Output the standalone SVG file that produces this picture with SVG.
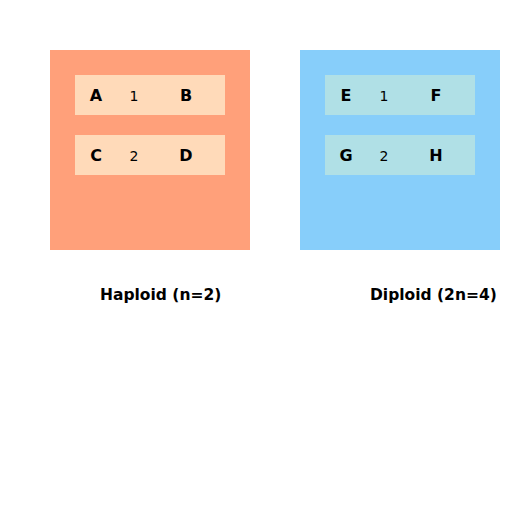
<svg xmlns="http://www.w3.org/2000/svg" width="512" height="512" viewBox="0 0 512 512">
<style>
.lbl{font-family:"DejaVu Sans",sans-serif;font-weight:bold;font-size:16px;fill:#000;text-anchor:middle}
.num{font-family:"DejaVu Sans",sans-serif;font-size:14px;fill:#000;text-anchor:middle}
.cap{font-family:"DejaVu Sans",sans-serif;font-weight:bold;font-size:15.5px;fill:#000}
</style>
<rect width="512" height="512" fill="#fff"/>
<g id="haploid">
<rect x="50" y="50" width="200" height="200" fill="#FFA07A"/>
<g id="h-pair1">
<rect x="75" y="75" width="150" height="40" fill="#FFDAB9"/>
<text class="lbl" x="96" y="100.5">A</text>
<text class="num" x="134" y="100.5">1</text>
<text class="lbl" x="186" y="100.5">B</text>
</g>
<g id="h-pair2">
<rect x="75" y="135" width="150" height="40" fill="#FFDAB9"/>
<text class="lbl" x="96" y="160.5">C</text>
<text class="num" x="134" y="160.5">2</text>
<text class="lbl" x="186" y="160.5">D</text>
</g>
<text class="cap" x="100" y="300">Haploid (n=2)</text>
</g>
<g id="diploid">
<rect x="300" y="50" width="200" height="200" fill="#87CEFA"/>
<g id="d-pair1">
<rect x="325" y="75" width="150" height="40" fill="#B0E0E6"/>
<text class="lbl" x="346" y="100.5">E</text>
<text class="num" x="384" y="100.5">1</text>
<text class="lbl" x="436" y="100.5">F</text>
</g>
<g id="d-pair2">
<rect x="325" y="135" width="150" height="40" fill="#B0E0E6"/>
<text class="lbl" x="346" y="160.5">G</text>
<text class="num" x="384" y="160.5">2</text>
<text class="lbl" x="436" y="160.5">H</text>
</g>
<text class="cap" x="370" y="300">Diploid (2n=4)</text>
</g>
<g id="connectors"></g>
</svg>
